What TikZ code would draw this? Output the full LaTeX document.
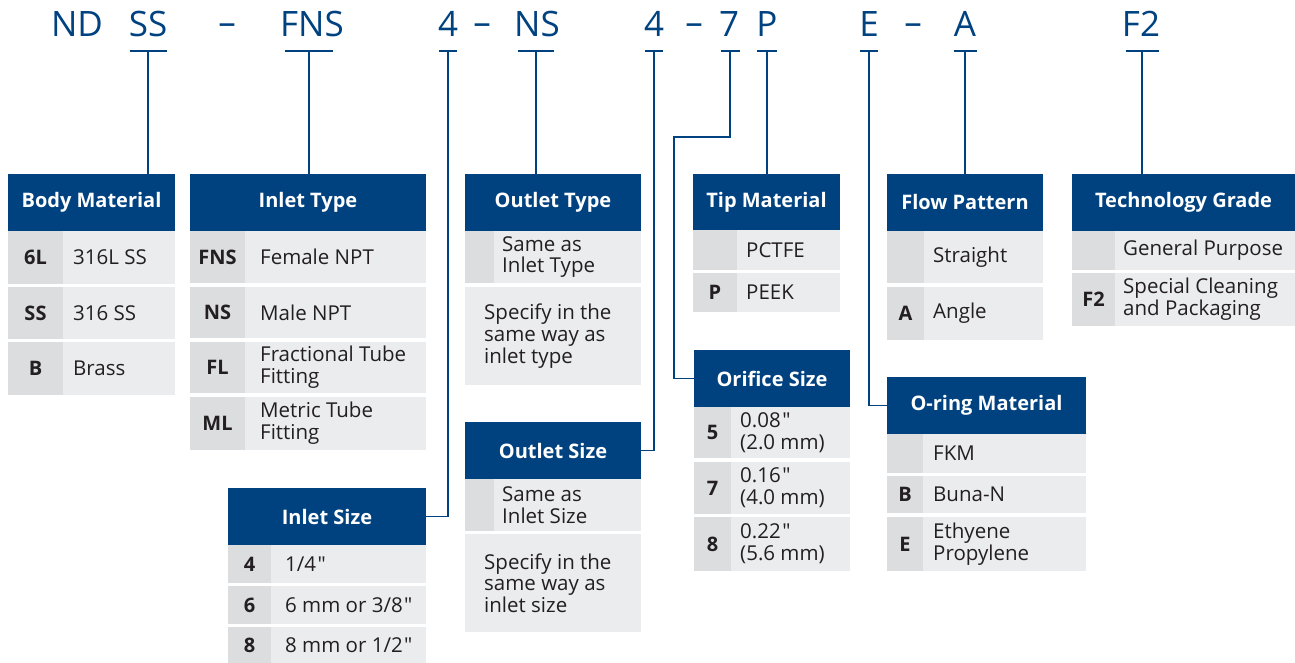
\documentclass[tikz,border=0pt]{standalone}
\usepackage{fontspec}
\setmainfont{Open Sans}
\font\qfont="Open Sans" at 20.5pt
\newcommand\dq{\kern1.5pt{\qfont\char34}}
\definecolor{nblue}{RGB}{0,66,128}
\definecolor{cgray}{RGB}{220,221,223}
\definecolor{tgray}{RGB}{235,236,238}
\definecolor{ink}{RGB}{35,31,32}
\tikzset{
  hdr/.style={fill=nblue, text=white, font=\fontsize{20}{24}\selectfont\bfseries, anchor=north west, inner sep=0pt, outer sep=0pt},
  codecell/.style={fill=cgray, text=ink, font=\fontsize{20}{24}\selectfont\bfseries, anchor=north west, inner sep=0pt, outer sep=0pt},
  textcell/.style={fill=tgray, anchor=north west, inner sep=0pt, outer sep=0pt},
  celltext/.style={text=ink, font=\fontsize{20.5}{21.7}\selectfont, anchor=west, align=left, inner sep=0pt},
  codechar/.style={text=nblue, font=\fontsize{35}{40}\selectfont, anchor=base, inner sep=0pt},
  conn/.style={draw=nblue, line width=1.7pt}
}
% #1 name, #2 x, #3 y top, #4 height, #5 code, #6 text
\newcommand\trow[6]{%
  \pgfmathsetmacro\RowW{\TabW-\CodeW}%
  \pgfmathsetmacro\RowX{#2+\CodeW}%
  \node[codecell, minimum width=\CodeW pt, minimum height=#4pt] (#1c) at (#2,#3) {#5};
  \node[textcell, minimum width=\RowW pt, minimum height=#4pt] (#1t) at (\RowX,#3) {};
  \node[celltext] (#1x) at ([xshift=\PadW pt]#1t.west) {#6};
}
\begin{document}
\begin{tikzpicture}[x=1pt,y=-1pt]
\useasboundingbox (0,0) rectangle (1295,663);
% ---- code string ----
\node[codechar] (cND) at (77,37) {ND};
\node[codechar] (cSS) at (148,37) {SS};
\node[codechar] (d1) at (227,35) {--};
\node[codechar] (cFNS) at (312,37) {FNS};
\node[codechar] (c4a) at (448,37) {4};
\node[codechar] (d2) at (482,35) {--};
\node[codechar] (cNS) at (537,37) {NS};
\node[codechar] (c4b) at (654,37) {4};
\node[codechar] (d3) at (694,35) {--};
\node[codechar] (c7) at (729,37) {7};
\node[codechar] (cP) at (767,37) {P};
\node[codechar] (cE) at (869,37) {E};
\node[codechar] (d4) at (913,35) {--};
\node[codechar] (cA) at (965,37) {A};
\node[codechar] (cF2) at (1141,37) {F2};
% tick coordinates
\coordinate (tSS) at (148,51);
\coordinate (tFNS) at (309,51);
\coordinate (t4a) at (448,51);
\coordinate (tNS) at (536,51);
\coordinate (t4b) at (654,51);
\coordinate (t7) at (730,51);
\coordinate (k7) at (674,137);
\coordinate (tP) at (767,51);
\coordinate (tE) at (869,51);
\coordinate (tA) at (965,51);
\coordinate (tF2) at (1142,51);
% ---- Body Material ----
\def\TabW{167}\def\CodeW{55}\def\PadW{10}
\node[hdr, minimum width=167pt, minimum height=57pt] (bm) at (8,174) {Body Material};
\trow{bmA}{8}{231}{53}{6L}{316L SS}
\trow{bmB}{8}{287}{52}{SS}{316 SS}
\trow{bmC}{8}{342}{53}{B}{Brass}
% ---- Inlet Type ----
\def\TabW{236}\def\CodeW{55}\def\PadW{15}
\node[hdr, minimum width=236pt, minimum height=57pt] (it) at (190,174) {Inlet Type};
\trow{itA}{190}{231}{52}{FNS}{Female NPT}
\trow{itB}{190}{287}{51}{NS}{Male NPT}
\trow{itC}{190}{342}{51}{FL}{Fractional Tube\\Fitting}
\trow{itD}{190}{397}{53}{ML}{Metric Tube\\Fitting}
% ---- Outlet Type ----
\def\TabW{176}\def\CodeW{29}\def\PadW{8}
\node[hdr, minimum width=176pt, minimum height=57pt] (ot) at (465,174) {Outlet Type};
\trow{otA}{465}{231}{52}{}{Same as\\Inlet Type}
\node[textcell, minimum width=176pt, minimum height=98pt] (otB) at (465,287) {};
\node[celltext] (otBx) at ([xshift=19pt]otB.west) {Specify in the\\same way as\\inlet type};
% ---- Tip Material ----
\def\TabW{147}\def\CodeW{44}\def\PadW{9}
\node[hdr, minimum width=147pt, minimum height=56pt] (tm) at (693,174) {Tip Material};
\trow{tmA}{693}{230}{40}{}{PCTFE}
\trow{tmB}{693}{273}{39}{P}{PEEK}
% ---- Flow Pattern ----
\def\TabW{156}\def\CodeW{37}\def\PadW{9}
\node[hdr, minimum width=156pt, minimum height=57pt] (fp) at (887,174) {Flow Pattern};
\trow{fpA}{887}{231}{52}{}{Straight}
\trow{fpB}{887}{287}{53}{A}{Angle}
% ---- Technology Grade ----
\def\TabW{223}\def\CodeW{43}\def\PadW{8}
\node[hdr, minimum width=223pt, minimum height=57pt] (tg) at (1072,174) {Technology Grade};
\trow{tgA}{1072}{231}{39}{}{General Purpose}
\trow{tgB}{1072}{273}{53}{F2}{Special Cleaning\\and Packaging}
% ---- Inlet Size ----
\def\TabW{198}\def\CodeW{43}\def\PadW{14}
\node[hdr, minimum width=198pt, minimum height=57pt] (is) at (228,488) {Inlet Size};
\trow{isA}{228}{545}{38}{4}{1/4\dq}
\trow{isB}{228}{586}{38}{6}{6 mm or 3/8\dq}
\trow{isC}{228}{627}{36}{8}{8 mm or 1/2\dq}
% ---- Outlet Size ----
\def\TabW{176}\def\CodeW{29}\def\PadW{8}
\node[hdr, minimum width=176pt, minimum height=57pt] (os) at (465,422) {Outlet Size};
\trow{osA}{465}{479}{52}{}{Same as\\Inlet Size}
\node[textcell, minimum width=176pt, minimum height=98pt] (osB) at (465,534) {};
\node[celltext] (osBx) at ([xshift=19pt]osB.west) {Specify in the\\same way as\\inlet size};
% ---- Orifice Size ----
\def\TabW{156}\def\CodeW{37}\def\PadW{9}
\node[hdr, minimum width=156pt, minimum height=57pt] (ors) at (694,350) {Orifice Size};
\trow{orA}{694}{407}{51}{5}{0.08\dq\\(2.0 mm)}
\trow{orB}{694}{462}{52}{7}{0.16\dq\\(4.0 mm)}
\trow{orC}{694}{517}{54}{8}{0.22\dq\\(5.6 mm)}
% ---- O-ring Material ----
\def\TabW{199}\def\CodeW{36}\def\PadW{10}
\node[hdr, minimum width=199pt, minimum height=57pt] (om) at (887,377) {O-ring Material};
\trow{omA}{887}{434}{39}{}{FKM}
\trow{omB}{887}{476}{37}{B}{Buna-N}
\trow{omC}{887}{517}{54}{E}{Ethyene\\Propylene}
% ---- connectors ----
\draw[conn] ([xshift=-18.5pt]tSS) -- ([xshift=18.5pt]tSS);
\draw[conn] ([xshift=-24pt]tFNS) -- ([xshift=24pt]tFNS);
\draw[conn] ([xshift=-9pt]t4a) -- ([xshift=9pt]t4a);
\draw[conn] ([xshift=-18pt]tNS) -- ([xshift=18pt]tNS);
\draw[conn] ([xshift=-9pt]t4b) -- ([xshift=9pt]t4b);
\draw[conn] ([xshift=-9.5pt]t7) -- ([xshift=9.5pt]t7);
\draw[conn] ([xshift=-10pt]tP) -- ([xshift=10pt]tP);
\draw[conn] ([xshift=-9pt]tE) -- ([xshift=9pt]tE);
\draw[conn] ([xshift=-11.5pt]tA) -- ([xshift=11.5pt]tA);
\draw[conn] ([xshift=-16.5pt]tF2) -- ([xshift=16.5pt]tF2);
\draw[conn] (tSS) -- (tSS |- bm.north);
\draw[conn] (tFNS) -- (tFNS |- it.north);
\draw[conn] (t4a) |- (is.east);
\draw[conn] (tNS) -- (tNS |- ot.north);
\draw[conn] (t4b) |- (os.east);
\draw[conn] (t7) |- (k7) |- (ors.west);
\draw[conn] (tP) -- (tP |- tm.north);
\draw[conn] (tE) |- (om.west);
\draw[conn] (tA) -- (tA |- fp.north);
\draw[conn] (tF2) -- (tF2 |- tg.north);
\end{tikzpicture}
\end{document}
